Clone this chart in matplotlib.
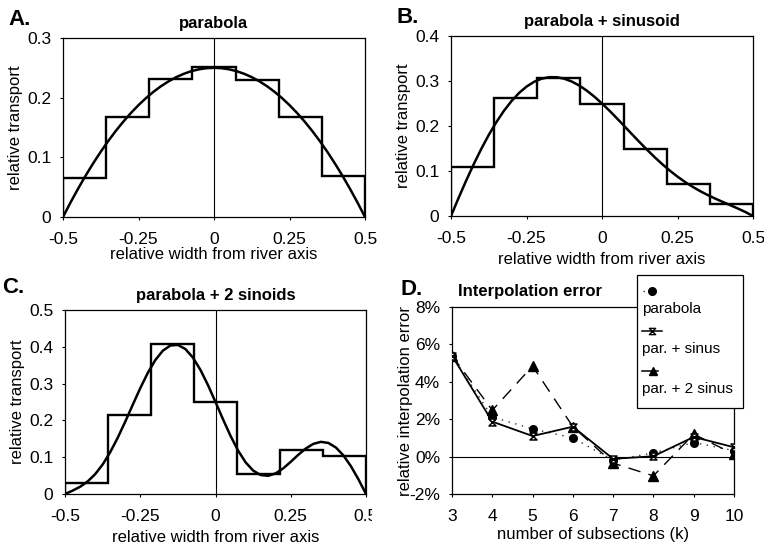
import matplotlib
matplotlib.use("Agg")
import matplotlib.pyplot as plt
import numpy as np
from matplotlib.path import Path
from matplotlib.lines import Line2D
from matplotlib.patches import Rectangle

plt.rcParams['font.family'] = ['Liberation Sans', 'DejaVu Sans']

# ---------------- data ----------------
x_curve = [round(-0.5 + 0.025 * i, 3) for i in range(41)]

curve_a = [0.0, 0.0244, 0.0475, 0.0694, 0.09, 0.1094, 0.1275, 0.1444, 0.16, 0.1744,
           0.1875, 0.1994, 0.21, 0.2194, 0.2275, 0.2344, 0.24, 0.2444, 0.2475, 0.2494,
           0.25,
           0.2494, 0.2475, 0.2444, 0.24, 0.2344, 0.2275, 0.2194, 0.21, 0.1994, 0.1875,
           0.1744, 0.16, 0.1444, 0.1275, 0.1094, 0.09, 0.0694, 0.0475, 0.0244, 0.0]

curve_b = [0.0, 0.0400, 0.0784, 0.1148, 0.1488, 0.1801, 0.2084, 0.2335, 0.2551, 0.2732,
           0.2875, 0.2982, 0.3051, 0.3085, 0.3084, 0.3051, 0.2988, 0.2898, 0.2784, 0.2650,
           0.25,
           0.2338, 0.2166, 0.1990, 0.1812, 0.1637, 0.1466, 0.1303, 0.1149, 0.1006, 0.0875,
           0.0756, 0.0649, 0.0553, 0.0466, 0.0387, 0.0312, 0.0240, 0.0166, 0.0088, 0.0]

curve_c = [0.0, 0.0091, 0.0196, 0.0339, 0.0537, 0.0801, 0.1133, 0.1526, 0.1963, 0.2423,
           0.2875, 0.3291, 0.3639, 0.3894, 0.4035, 0.4051, 0.3939, 0.3707, 0.3372, 0.2959,
           0.25,
           0.2029, 0.1578, 0.1181, 0.0861, 0.0637, 0.0515, 0.0494, 0.0561, 0.0697, 0.0875,
           0.1065, 0.1237, 0.1362, 0.1417, 0.1387, 0.1263, 0.1049, 0.0754, 0.0397, 0.0]

n_sub = 7
steps_a = [0.066, 0.167, 0.231, 0.251, 0.230, 0.168, 0.068]
steps_b = [0.108, 0.262, 0.306, 0.250, 0.149, 0.072, 0.027]
steps_c = [0.030, 0.214, 0.407, 0.251, 0.053, 0.119, 0.103]

titles = ["parabola", "parabola + sinusoid", "parabola + 2 sinoids"]
letters = ["A.", "B.", "C.", "D."]

k_sub = [3, 4, 5, 6, 7, 8, 9, 10]
err_parabola = [5.4, 2.12, 1.48, 1.0, -0.2, 0.2, 0.75, 0.32]
err_sinus = [5.4, 1.87, 1.1, 1.6, -0.12, 0.02, 1.05, 0.5]
err_2sinus = [5.4, 2.48, 4.84, 1.6, -0.35, -1.03, 1.2, 0.13]
legend_labels = ["parabola", "par. + sinus", "par. + 2 sinus"]

W, H = 764, 546
fig = plt.figure(figsize=(W / 100, H / 100), dpi=100)


def rect(l, t, r, b):
    return [l / W, (H - b) / H, (r - l) / W, (b - t) / H]


TICK_FS = 12.5
LAB_FS = 12
TITLE_FS = 12

panels = [
    (rect(63, 38, 365, 217), curve_a, steps_a, 0.3, titles[0], -0.168),
    (rect(451, 36, 753, 216), curve_b, steps_b, 0.4, titles[1], -0.2),
    (rect(65, 310, 366, 494), curve_c, steps_c, 0.5, titles[2], -0.196),
]

edges = np.linspace(-0.5, 0.5, n_sub + 1)
for pos, curve, steps, ymax, title, xl in panels:
    ax = fig.add_axes(pos)
    ax.axvline(0, color='black', lw=0.8, zorder=1)
    ax.stairs(steps, edges, baseline=0, color='black', lw=1.7, zorder=3)
    ax.plot(x_curve, curve, color='black', lw=1.8, zorder=4)
    ax.set_xlim(-0.5, 0.5)
    ax.set_ylim(0, ymax)
    ax.set_xticks([-0.5, -0.25, 0, 0.25, 0.5])
    ax.set_xticklabels(["-0.5", "-0.25", "0", "0.25", "0.5"])
    yt = [round(0.1 * i, 1) for i in range(int(round(ymax * 10)) + 1)]
    ax.set_yticks(yt)
    ax.set_yticklabels(["0"] + [f"{v:.1f}" for v in yt[1:]])
    ax.tick_params(labelsize=TICK_FS, length=2.5, width=0.8, direction='out')
    ax.tick_params(axis='x', pad=8)
    ax.tick_params(axis='y', pad=6)
    for s in ax.spines.values():
        s.set_linewidth(0.9)
    ax.set_xlabel("relative width from river axis", fontsize=LAB_FS)
    ax.xaxis.set_label_coords(0.5, xl)
    ax.set_ylabel("relative transport", fontsize=LAB_FS)
    ax.yaxis.set_label_coords(-0.132, 0.5)
    ax.set_title(title, fontsize=TITLE_FS, fontweight='bold', pad=7)

# ---------------- panel D ----------------
axd = fig.add_axes(rect(452, 307, 734, 494))
axd.axhline(0, color='black', lw=0.8, zorder=1)
hourglass = Path([(-1, 1), (1, 1), (-1, -1), (1, -1), (-1, 1)],
                 [Path.MOVETO, Path.LINETO, Path.LINETO, Path.LINETO, Path.CLOSEPOLY])
axd.plot(k_sub, err_parabola, color='#333333', lw=1.0, ls=(0, (1, 4)),
         marker='o', ms=5.5, mfc='black', mec='black', zorder=3)
axd.plot(k_sub, err_2sinus, color='black', lw=1.0, ls=(0, (9, 6)),
         marker='^', ms=6.5, mfc='black', mec='black', zorder=4)
axd.plot(k_sub, err_sinus, color='black', lw=1.3, ls='-',
         marker=hourglass, ms=5, mfc='white', mec='black', mew=1.1, zorder=5)
axd.set_xlim(3, 10)
axd.set_ylim(-2, 8)
axd.set_xticks(k_sub)
axd.set_yticks([-2, 0, 2, 4, 6, 8])
axd.set_yticklabels(["-2%", "0%", "2%", "4%", "6%", "8%"])
axd.tick_params(labelsize=TICK_FS, length=2.5, width=0.8, direction='out')
axd.tick_params(axis='x', pad=8)
axd.tick_params(axis='y', pad=6)
for s in axd.spines.values():
    s.set_linewidth(0.9)
axd.set_xlabel("number of subsections (k)", fontsize=LAB_FS)
axd.xaxis.set_label_coords(0.5, -0.176)
axd.set_ylabel("relative interpolation error", fontsize=LAB_FS)
axd.yaxis.set_label_coords(-0.138, 0.5)
axd.text(0.02, 1.06, "Interpolation error", transform=axd.transAxes,
         fontsize=TITLE_FS, fontweight='bold', ha='left', va='baseline')


def fx(px):
    return px / W


def fy(py):
    return (H - py) / H


# legend box
fig.add_artist(Rectangle((fx(637), fy(408)), (743 - 637) / W, (408 - 275) / H,
                         transform=fig.transFigure, facecolor='white',
                         edgecolor='black', lw=0.9, zorder=20))
fig.add_artist(Line2D([fx(643), fx(652)], [fy(291), fy(291)], transform=fig.transFigure,
                      color='#333333', lw=1.0, ls=(0, (1, 3)), zorder=21))
fig.add_artist(Line2D([fx(652)], [fy(291)], transform=fig.transFigure, marker='o',
                      ms=5.5, color='black', zorder=22))
fig.add_artist(Line2D([fx(642), fx(662)], [fy(331), fy(331)], transform=fig.transFigure,
                      color='black', lw=1.1, zorder=21))
fig.add_artist(Line2D([fx(652)], [fy(331)], transform=fig.transFigure, marker=hourglass,
                      ms=4.5, mfc='white', mec='black', mew=1.0, zorder=22))
fig.add_artist(Line2D([fx(642), fx(658)], [fy(371), fy(371)], transform=fig.transFigure,
                      color='black', lw=1.1, zorder=21))
fig.add_artist(Line2D([fx(653)], [fy(371)], transform=fig.transFigure, marker='^',
                      ms=6, color='black', zorder=22))
for lab, py in zip(legend_labels, [309, 349, 389]):
    fig.text(fx(642), fy(py), lab, fontsize=11, ha='left', va='center', zorder=23)

# panel letters
for lab, (px, py) in zip(letters, [(8, 25), (397, 23), (2, 293), (400, 295)]):
    fig.text(fx(px), fy(py), lab, fontsize=16, fontweight='bold', ha='left', va='baseline')

# crop of panel C's last tick label, as in the reference
fig.add_artist(Rectangle((fx(372), fy(532)), 12 / W, 30 / H, transform=fig.transFigure,
                         facecolor='white', edgecolor='none', zorder=30))

fig.savefig("out.png", dpi=100, facecolor='white')
